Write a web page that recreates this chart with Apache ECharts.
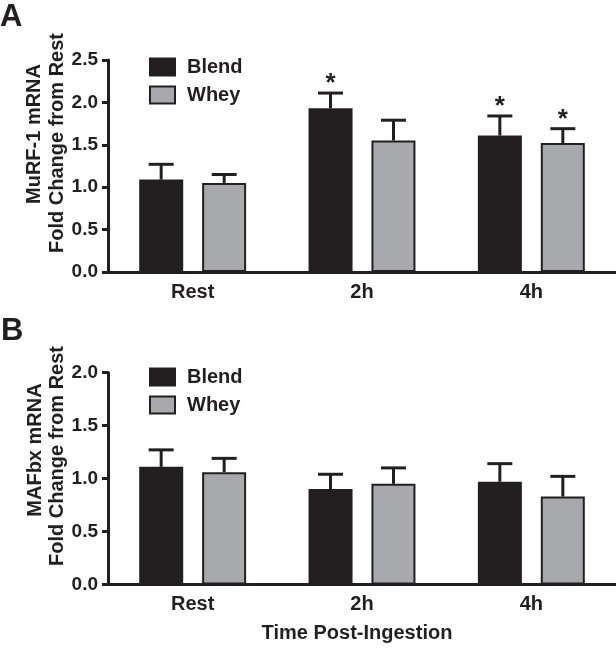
<!DOCTYPE html>
<html>
<head>
<meta charset="utf-8">
<script src="https://cdn.jsdelivr.net/npm/echarts@6/dist/echarts.min.js"></script>
<style>
html,body{margin:0;padding:0;background:#fff;}
#chart{width:616px;height:649px;}
</style>
</head>
<body>
<div id="chart"></div>
<script>
var categories = ['Rest', '2h', '4h'];
var seriesNames = ['Blend', 'Whey'];
var yTicksA = [0, 0.5, 1.0, 1.5, 2.0, 2.5];
var yTicksB = [0, 0.5, 1.0, 1.5, 2.0];

var murfBlend = [1.09, 1.93, 1.61];
var murfBlendErr = [0.18, 0.18, 0.23];
var murfWhey = [1.05, 1.55, 1.52];
var murfWheyErr = [0.10, 0.24, 0.17];
var murfBlendSig = [false, true, true];
var murfWheySig = [false, false, true];

var mafBlend = [1.11, 0.90, 0.97];
var mafBlendErr = [0.16, 0.14, 0.17];
var mafWhey = [1.06, 0.95, 0.83];
var mafWheyErr = [0.13, 0.15, 0.19];
var mafBlendSig = [false, false, false];
var mafWheySig = [false, false, false];

var FONT = 'Liberation Sans, Arial, sans-serif';
var INK = '#231f20';
var BLACK = '#231f20';
var GREY = '#a7a9ac';
var BAR_W = 44;
var BAR_OFF = 31.5;

function errData(vals, errs, sig) {
  return vals.map(function (v, i) { return [i, v, v + errs[i], sig[i] ? 1 : 0]; });
}

function errSeries(name, xi, yi, vals, errs, sig, offset) {
  return {
    type: 'custom', name: name + ' err', xAxisIndex: xi, yAxisIndex: yi, z: 5,
    silent: true,
    data: errData(vals, errs, sig),
    renderItem: function (params, api) {
      var c = api.value(0);
      var top = api.coord([c, api.value(1)]);
      var hi = api.coord([c, api.value(2)]);
      var x = top[0] + offset;
      var children = [
        { type: 'line', shape: { x1: x, y1: top[1], x2: x, y2: hi[1] }, style: { stroke: INK, lineWidth: 3 } },
        { type: 'line', shape: { x1: x - 12.5, y1: hi[1], x2: x + 12.5, y2: hi[1] }, style: { stroke: INK, lineWidth: 3 } }
      ];
      if (api.value(3)) {
        children.push({ type: 'text', style: { text: '*', x: x, y: hi[1] + 4, align: 'center', verticalAlign: 'bottom', fill: INK, font: 'bold 26px ' + FONT } });
      }
      return { type: 'group', children: children };
    }
  };
}

function barSeries(name, xi, yi, vals, color) {
  return {
    type: 'bar', name: name, xAxisIndex: xi, yAxisIndex: yi,
    data: vals, barWidth: BAR_W, barGap: '43%',
    itemStyle: { color: color, borderColor: INK, borderWidth: 2 },
    silent: true
  };
}

function xAxis(gi) {
  return {
    type: 'category', gridIndex: gi, data: categories,
    axisLine: { lineStyle: { color: INK, width: 3 } },
    axisTick: { alignWithLabel: true, length: 6, lineStyle: { color: INK, width: 3 } },
    axisLabel: { color: INK, fontFamily: FONT, fontWeight: 'bold', fontSize: 20, margin: 10 }
  };
}

function yAxis(gi, ticks) {
  return {
    type: 'value', gridIndex: gi, min: ticks[0], max: ticks[ticks.length - 1], interval: ticks[1] - ticks[0],
    axisLine: { show: true, lineStyle: { color: INK, width: 3 } },
    axisTick: { show: true, length: 6, lineStyle: { color: INK, width: 3 } },
    splitLine: { show: false },
    axisLabel: { color: INK, fontFamily: FONT, fontWeight: 'bold', fontSize: 19, margin: 10,
      formatter: function (v) { return v.toFixed(1); } }
  };
}

function legend(top) {
  return {
    data: seriesNames, orient: 'vertical', left: 149, top: top, padding: 0,
    itemWidth: 25, itemHeight: 17, itemGap: 8, icon: 'rect',
    selectedMode: false,
    textStyle: { color: INK, fontFamily: FONT, fontWeight: 'bold', fontSize: 20, padding: [0, 0, 0, 7] },
    itemStyle: { borderColor: INK, borderWidth: 2 }
  };
}

function vtext(t, x, y) {
  return { type: 'text', x: x, y: y, rotation: Math.PI / 2,
    style: { text: t, align: 'center', verticalAlign: 'middle', fill: INK, font: 'bold 20px ' + FONT } };
}

var option = {
  animation: false,
  backgroundColor: '#fff',
  grid: [
    { left: 108, right: 0, top: 60, height: 212 },
    { left: 108, right: 0, top: 372.5, height: 212 }
  ],
  xAxis: [xAxis(0), xAxis(1)],
  yAxis: [yAxis(0, yTicksA), yAxis(1, yTicksB)],
  legend: [legend(57), legend(367)],
  series: [
    barSeries('Blend', 0, 0, murfBlend, BLACK),
    barSeries('Whey', 0, 0, murfWhey, GREY),
    errSeries('Blend', 0, 0, murfBlend, murfBlendErr, murfBlendSig, -BAR_OFF),
    errSeries('Whey', 0, 0, murfWhey, murfWheyErr, murfWheySig, BAR_OFF),
    barSeries('Blend', 1, 1, mafBlend, BLACK),
    barSeries('Whey', 1, 1, mafWhey, GREY),
    errSeries('Blend', 1, 1, mafBlend, mafBlendErr, mafBlendSig, -BAR_OFF),
    errSeries('Whey', 1, 1, mafWhey, mafWheyErr, mafWheySig, BAR_OFF)
  ],
  graphic: [
    { type: 'text', left: 0, top: 2, style: { text: 'A', fill: INK, font: 'bold 31px ' + FONT } },
    { type: 'text', left: 1, top: 316, style: { text: 'B', fill: INK, font: 'bold 31px ' + FONT } },
    vtext('MuRF-1 mRNA', 34, 134),
    vtext('Fold Change from Rest', 57, 143),
    vtext('MAFbx mRNA', 35, 450),
    vtext('Fold Change from Rest', 57, 456),
    { type: 'text', x: 357, y: 633, style: { text: 'Time Post-Ingestion', align: 'center', verticalAlign: 'middle', fill: INK, font: 'bold 20px ' + FONT } }
  ]
};

var chart = echarts.init(document.getElementById('chart'), null, { renderer: 'canvas' });
chart.setOption(option);
</script>
</body>
</html>
